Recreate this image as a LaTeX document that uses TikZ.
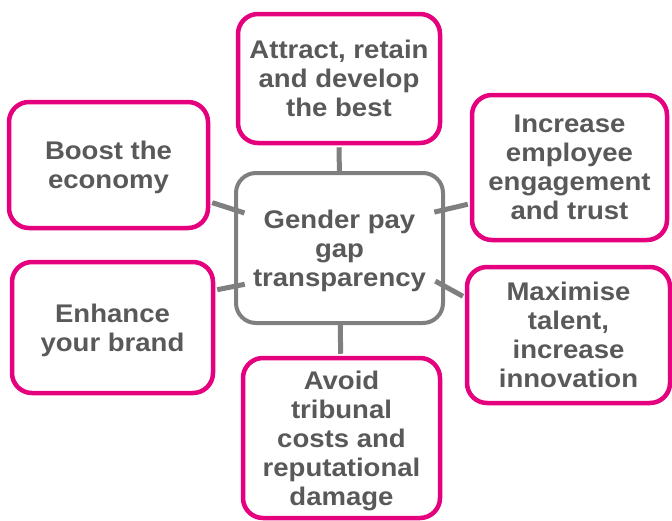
\documentclass[tikz,border=0pt]{standalone}
\usepackage{fontspec}
\setmainfont{Liberation Sans}[FakeStretch=1.08]
\definecolor{pinkline}{HTML}{E5007D}
\definecolor{greyline}{HTML}{7F7F7F}
\definecolor{greytext}{HTML}{595959}
\begin{document}
\begin{tikzpicture}[x=1pt,y=-1pt,
		box/.style={rounded corners=20pt,fill=white,inner sep=0pt,align=center,text depth=0pt,
			text=greytext,font=\fontsize{25.5}{29}\selectfont\bfseries},
		goal/.style={box,draw=pinkline,line width=4.5pt},
		hubbox/.style={box,draw=greyline,line width=4pt},
		link/.style={draw=greyline,line width=5pt}]
			\useasboundingbox (0,0) rectangle (672,520);
			\node[hubbox,minimum width=207pt,minimum height=150pt] (hub) at (339.5,248){Gender pay\\gap\\transparency};
			% outer goals, clockwise from the top
			\node[goal,minimum width=202pt,minimum height=129pt] (attract) at (339,78.5){Attract, retain\\and develop\\the best};
			\node[goal,minimum width=195pt,minimum height=145pt] (engage) at (569.5,167.5){Increase\\employee\\engagement\\and trust};
			\node[goal,minimum width=203pt,minimum height=136pt] (talent) at (568.5,335){Maximise\\talent,\\increase\\innovation};
			\node[goal,minimum width=197pt,minimum height=160pt] (avoid) at (341.5,438){Avoid\\tribunal\\costs and\\reputational\\damage};
			\node[goal,minimum width=201pt,minimum height=131pt] (brand) at (112.5,327.5){Enhance\\your brand};
			\node[goal,minimum width=199pt,minimum height=126pt] (economy) at (108.5,165){Boost the\\economy};
			% spokes
			\draw[link,shorten <=2pt] (attract) to (hub);
			\draw[link,shorten >=2pt] (hub) to (avoid);
			\draw[link,shorten <=2pt,shorten >=-11pt] (economy.-20) to (hub.160);
			\draw[link,shorten <=2pt,shorten >=-11pt] (brand.20) to (hub.200);
			\draw[link,shorten <=2pt,shorten >=-11pt] (engage.200) to (hub.20);
			\draw[link,shorten <=2pt,shorten >=-11pt] (talent.160) to (hub.-20);
		\end{tikzpicture}
\end{document}
